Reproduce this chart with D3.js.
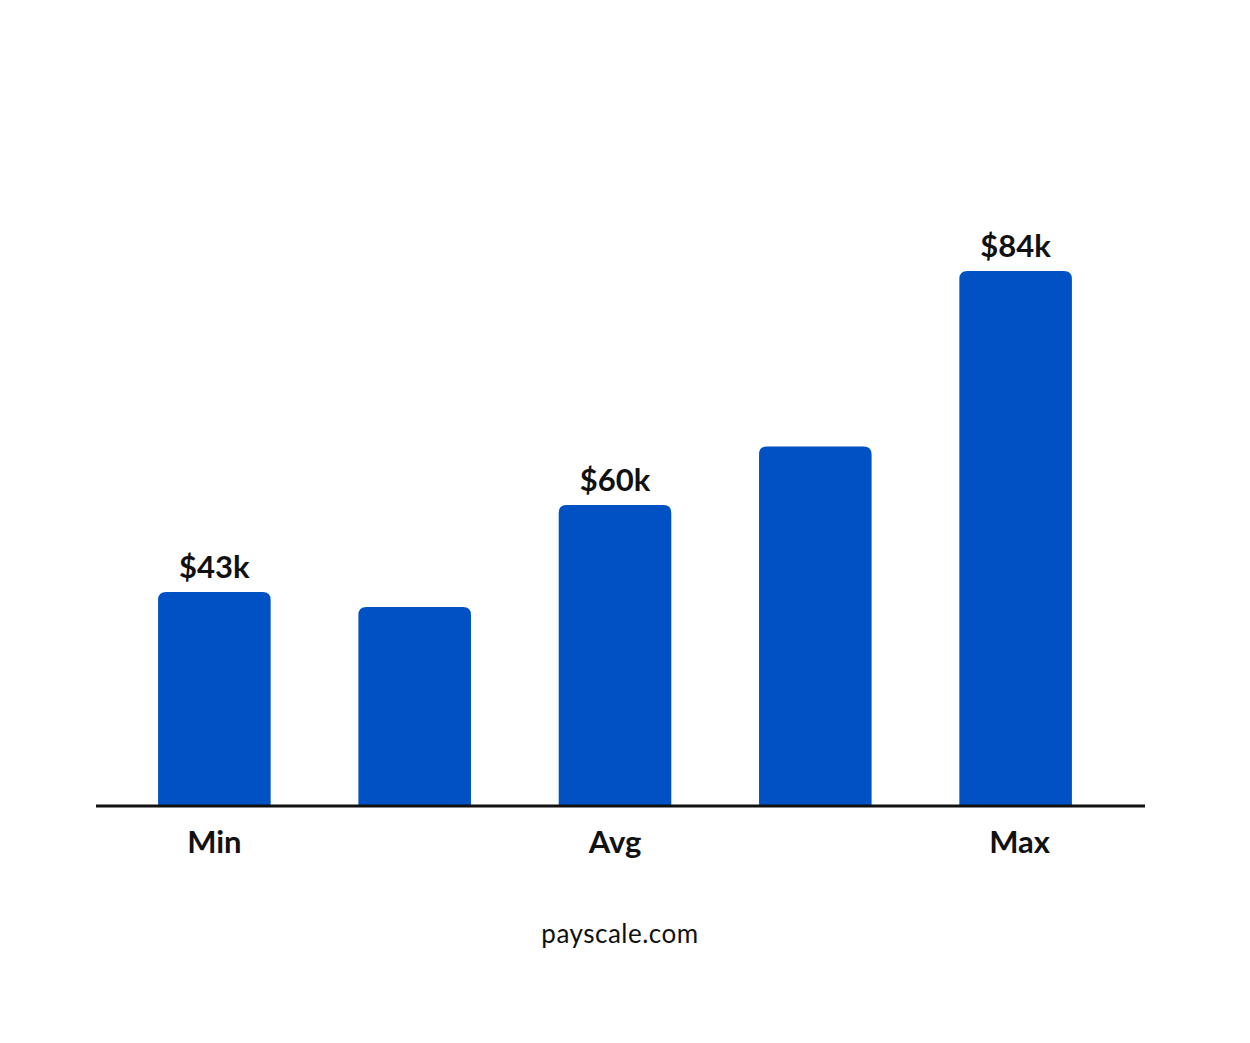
<!DOCTYPE html>
<html><head><meta charset="utf-8">
<script src="https://cdn.jsdelivr.net/npm/d3@7"></script>
<style>body{margin:0;background:#fff}svg{display:block}</style>
</head><body>
<script>
const categories = ["b1","b2","b3","b4","b5"];
const values = [43, 40, 60, 66, 84];
const valueLabels = ["$43k", "", "$60k", "", "$84k"];
const axisLabels = ["Min", "", "Avg", "", "Max"];

const W = 1250, H = 1043;
const svg = d3.select("body").append("svg").attr("width", W).attr("height", H);
const x = d3.scaleBand().domain(categories).range([108, 1122]).paddingInner(0.438).paddingOuter(0.25);
const y = d3.scaleLinear().domain([0, 43, 60, 84]).range([806, 592, 505, 271]);
const r = 8;
const color = "#0052c4";

svg.selectAll("path.bar").data(values).join("path").attr("class","bar")
  .attr("fill", color)
  .attr("d", (v,i) => {
    const x0 = x(categories[i]), w = x.bandwidth(), y0 = y(v), yb = y(0);
    return `M${x0},${yb}V${y0+r}Q${x0},${y0} ${x0+r},${y0}H${x0+w-r}Q${x0+w},${y0} ${x0+w},${y0+r}V${yb}Z`;
  });

svg.append("line").attr("x1",96).attr("x2",1145).attr("y1",y(0)).attr("y2",y(0))
  .attr("stroke","#111").attr("stroke-width",3);

svg.selectAll("text.val").data(values).join("text").attr("class","val")
  .attr("x",(v,i)=>x(categories[i])+x.bandwidth()/2).attr("y",v=>y(v)-14)
  .attr("text-anchor","middle").attr("font-family","Lato, sans-serif").attr("font-weight",700)
  .attr("font-size",31).attr("fill","#111").text((v,i)=>valueLabels[i]);

svg.selectAll("text.cat").data(categories).join("text").attr("class","cat")
  .attr("x",(c,i)=>x(c)+x.bandwidth()/2+(i===4?4:0)).attr("y",853)
  .attr("text-anchor","middle").attr("font-family","Lato, sans-serif").attr("font-weight",700)
  .attr("font-size",31).attr("fill","#111").text((c,i)=>axisLabels[i]);

svg.append("text").attr("x",620).attr("y",943).attr("text-anchor","middle")
  .attr("font-family","Lato, sans-serif").attr("font-size",26).attr("fill","#111")
  .attr("letter-spacing",0.5).text("payscale.com");
</script>
</body></html>
